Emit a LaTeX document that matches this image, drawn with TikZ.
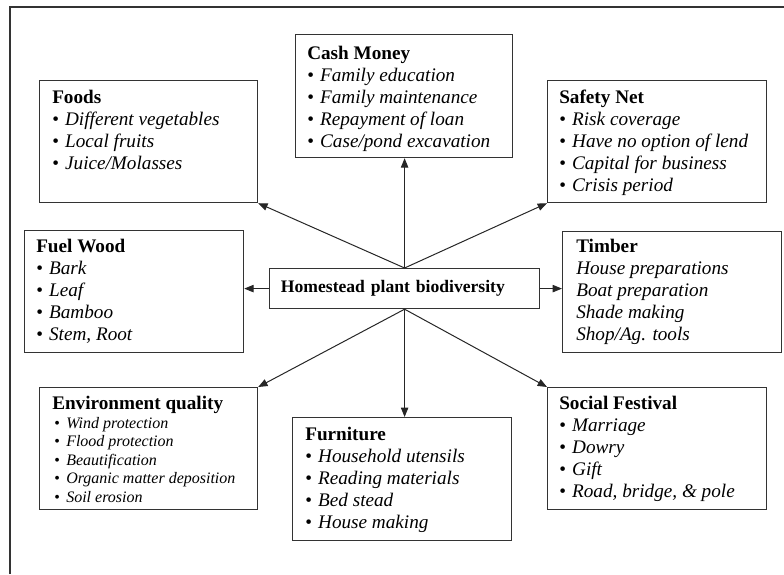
\documentclass[tikz,border=0pt]{standalone}
\usepackage{fontspec}
\setmainfont{Liberation Serif}
\usetikzlibrary{arrows.meta}
\newcommand{\itm}[1]{\textbullet\hspace{0.32em}\textit{#1}}
\newcommand{\sitm}[1]{\hspace*{1.5pt}\textbullet\hspace{0.4em}\textit{#1}}
\newcommand{\ttl}[1]{\textbf{#1}}
\tikzset{
  box/.style={draw=black!80, line width=0.9pt, rectangle, inner sep=0pt, anchor=north west},
  txt/.style={anchor=north west, inner sep=0pt, align=left, font=\fontsize{14.4pt}{16.5pt}\selectfont},
  smalltxt/.style={font=\fontsize{12pt}{13.9pt}\selectfont},
  arr/.style={-{Triangle[length=7pt,width=5.5pt]}, line width=0.75pt, black!85},
  frame/.style={line width=0.9pt, black!80},
}
\begin{document}
\begin{tikzpicture}[x=0.75pt, y=-0.75pt]
\useasboundingbox (0,0) rectangle (784,574);
\draw[frame] (10,574) -- (10,7) -- (784,7);

% boxes
\node[box, minimum width=163.5pt, minimum height=91.5pt] (foods) at (39,80) {};
\node[box, minimum width=162.75pt, minimum height=92.25pt] (cash) at (295,34) {};
\node[box, minimum width=164.25pt, minimum height=91.5pt] (safety) at (547,80) {};
\node[box, minimum width=164.25pt, minimum height=91.5pt] (fuel) at (24,230) {};
\node[box, minimum width=164.25pt, minimum height=90.75pt] (timber) at (562,231) {};
\node[box, minimum width=163.5pt, minimum height=91.5pt] (env) at (39,387) {};
\node[box, minimum width=164.25pt, minimum height=92.25pt] (furn) at (292,417) {};
\node[box, minimum width=164.25pt, minimum height=91.5pt] (social) at (547,387) {};
\node[box, minimum height=30pt, inner xsep=8.5pt, text width=185.5pt, align=left,
      font=\bfseries\fontsize{13.2pt}{15pt}\selectfont] (hub) at (269,268) {Homestead plant biodiversity};

% texts
\node[txt] (foodsT) at (52,90) {\ttl{Foods}\\ \itm{Different vegetables}\\ \itm{Local fruits}\\ \itm{Juice/Molasses}};
\node[txt] (cashT) at (307,46) {\ttl{Cash Money}\\ \itm{Family education}\\ \itm{Family maintenance}\\ \itm{Repayment of loan}\\ \itm{Case/pond excavation}};
\node[txt] (safetyT) at (559,90) {\ttl{Safety Net}\\ \itm{Risk coverage}\\ \itm{Have no option of lend}\\ \itm{Capital for business}\\ \itm{Crisis period}};
\node[txt] (fuelT) at (36,239) {\ttl{Fuel Wood}\\ \itm{Bark}\\ \itm{Leaf}\\ \itm{Bamboo}\\ \itm{Stem, Root}};
\node[txt] (timberT) at (576,239) {\ttl{Timber}\\ \textit{House preparations}\\ \textit{Boat preparation}\\ \textit{Shade making}\\ \textit{Shop/Ag. tools}};
\node[txt, smalltxt] (envT) at (52,396) {{\fontsize{14.4pt}{16.5pt}\selectfont\bfseries Environment quality}\\
  \sitm{Wind protection}\\
  \sitm{Flood protection}\\
  \sitm{Beautification}\\
  \sitm{Organic matter deposition}\\
  \sitm{Soil erosion}};
\node[txt] (furnT) at (305,427) {\ttl{Furniture}\\ \itm{Household utensils}\\ \itm{Reading materials}\\ \itm{Bed stead}\\ \itm{House making}};
\node[txt] (socialT) at (559,396) {\ttl{Social Festival}\\ \itm{Marriage}\\ \itm{Dowry}\\ \itm{Gift}\\ \itm{Road, bridge, \& pole}};

% connectors
\draw[arr] (hub.north) -- (hub.north |- cash.south);
\draw[arr] (hub.north) -- (foods.south east);
\draw[arr] (hub.north) -- (safety.south west);
\draw[arr] (hub.west) -- (hub.west -| fuel.east);
\draw[arr] (hub.east) -- (hub.east -| timber.west);
\draw[arr] (hub.south) -- (env.north east);
\draw[arr] (hub.south) -- (hub.south |- furn.north);
\draw[arr] (hub.south) -- (social.north west);
\end{tikzpicture}
\end{document}
